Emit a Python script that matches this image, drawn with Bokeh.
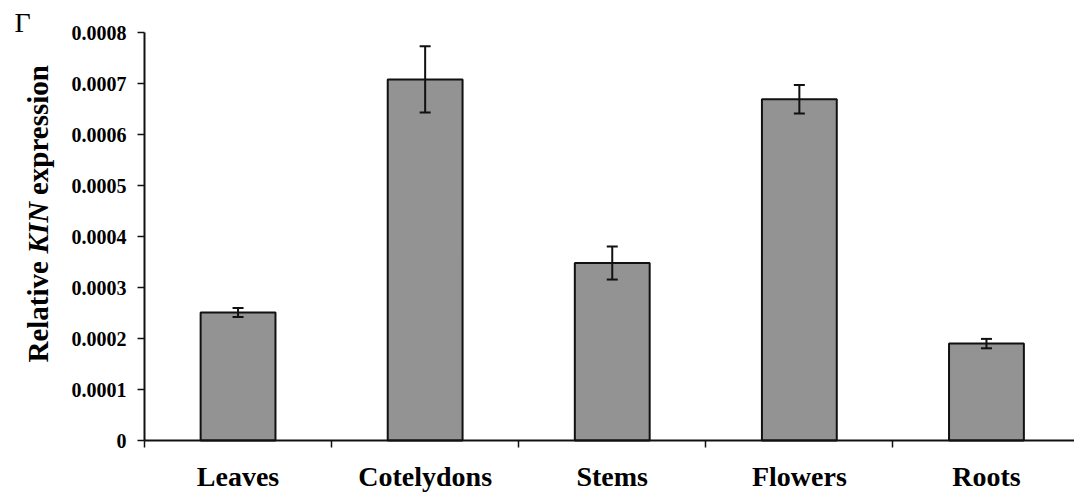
import math
from bokeh.plotting import figure
from bokeh.models import (ColumnDataSource, Range1d, FixedTicker, Whisker, TeeHead)
from bokeh.core.properties import value
from bokeh.embed import file_html
from bokeh.resources import INLINE

categories = ["Leaves", "Cotelydons", "Stems", "Flowers", "Roots"]
expression = [0.000251, 0.000708, 0.000348, 0.000669, 0.000190]
errors = [0.0000088, 0.0000648, 0.0000324, 0.0000280, 0.0000092]
y_ticks = [0, 0.0001, 0.0002, 0.0003, 0.0004, 0.0005, 0.0006, 0.0007, 0.0008]
y_tick_labels = ["0", "0.0001", "0.0002", "0.0003", "0.0004", "0.0005", "0.0006", "0.0007", "0.0008"]
y_title_parts = ["Relative", "KIN", "expression"]
y_title_styles = ["bold", "bold italic", "bold"]
panel_letter = "Γ"

W, H = 1074, 497
AXIS_X_PX = 144            # image x of the y axis
AXIS_Y_PX = 440            # image y of the x axis
CAT_PX = 187.1             # pixels per category
Y_MAX = 0.0008
Y_PX = 408                 # pixels from 0 to Y_MAX

px_per_y = Y_PX / Y_MAX
x_start = -AXIS_X_PX / CAT_PX
x_end = (W - AXIS_X_PX) / CAT_PX
y_start = -(H - AXIS_Y_PX) / px_per_y
y_end = AXIS_Y_PX / px_per_y

def img_to_data(ix, iy):
    return (ix - AXIS_X_PX) / CAT_PX, (AXIS_Y_PX - iy) / px_per_y

xc = [i + 0.5 for i in range(len(categories))]
bounds = [i for i in range(len(categories) + 1)]

src = ColumnDataSource(dict(
    x=xc, top=expression,
    upper=[v + e for v, e in zip(expression, errors)],
    lower=[v - e for v, e in zip(expression, errors)],
))

FONT = "Liberation Serif"

p = figure(width=W, height=H, output_backend="svg", toolbar_location=None,
           x_range=Range1d(x_start, x_end), y_range=Range1d(y_start, y_end))
p.min_border = 0
p.outline_line_color = None
p.xgrid.visible = False
p.ygrid.visible = False

p.vbar(x="x", top="top", width=0.40, bottom=0, source=src,
       fill_color="#939393", line_color="#111111", line_width=2)

w = Whisker(base="x", upper="upper", lower="lower", source=src, level="overlay",
            line_color="#111111", line_width=2,
            upper_head=TeeHead(size=11, line_color="#111111", line_width=2),
            lower_head=TeeHead(size=11, line_color="#111111", line_width=2))
p.add_layout(w)

# y-axis title, rotated, KIN in italic
title_img_y = [362, 253, 194.5]
for t, st, iy in zip(y_title_parts, y_title_styles, title_img_y):
    dx, dy = img_to_data(37, iy)
    p.text(x=[dx], y=[dy], text=[t], angle=math.pi / 2,
           text_font=value(FONT), text_font_style=st, text_font_size="29px",
           text_color="black", text_align="left", text_baseline="alphabetic")

gx, gy = img_to_data(14, 22)
p.text(x=[gx], y=[gy], text=[panel_letter], text_font=value(FONT),
       text_font_size="28px", text_color="black",
       text_align="left", text_baseline="alphabetic")

xa = p.xaxis[0]
xa.fixed_location = 0
xa.bounds = (0, x_end)
xa.ticker = FixedTicker(ticks=xc, minor_ticks=bounds)
xa.major_label_overrides = {x: c for x, c in zip(xc, categories)}
xa.major_tick_out = 0
xa.major_tick_in = 0
xa.minor_tick_out = 7
xa.minor_tick_in = 0
xa.minor_tick_line_color = "#111111"
xa.minor_tick_line_width = 1.5
xa.axis_line_color = "#111111"
xa.axis_line_width = 2
xa.major_label_text_font = FONT
xa.major_label_text_font_style = "bold"
xa.major_label_text_font_size = "28px"
xa.major_label_text_color = "black"
xa.major_label_standoff = 13

ya = p.yaxis[0]
ya.fixed_location = 0
ya.bounds = (0, Y_MAX)
ya.ticker = FixedTicker(ticks=y_ticks, minor_ticks=[])
ya.major_label_overrides = {t: l for t, l in zip(y_ticks, y_tick_labels)}
ya.major_tick_out = 7
ya.major_tick_in = 0
ya.major_tick_line_color = "#111111"
ya.major_tick_line_width = 1.5
ya.minor_tick_out = 0
ya.minor_tick_in = 0
ya.axis_line_color = "#111111"
ya.axis_line_width = 2
ya.major_label_text_font = FONT
ya.major_label_text_font_style = "bold"
ya.major_label_text_font_size = "20px"
ya.major_label_text_color = "black"
ya.major_label_standoff = 11

open("out.html", "w").write(file_html(p, INLINE))
